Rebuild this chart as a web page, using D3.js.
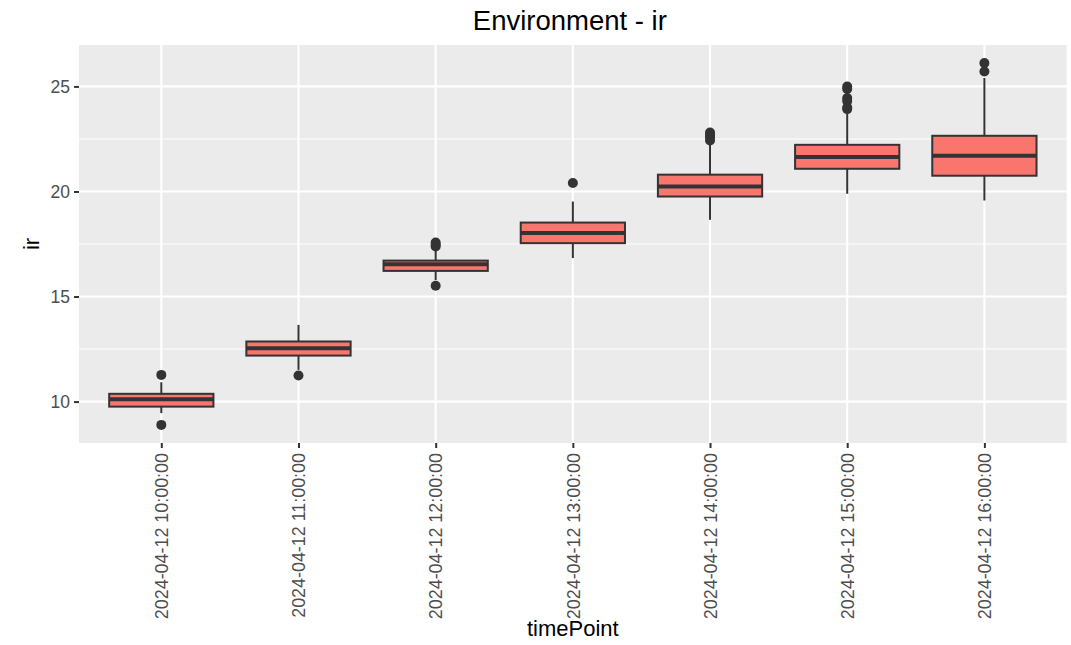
<!DOCTYPE html>
<html>
<head>
<meta charset="utf-8">
<script src="https://cdn.jsdelivr.net/npm/d3@7"></script>
<style>
  body { margin: 0; background: #fff; }
  text { font-family: 'Liberation Sans', Arial, sans-serif; }
</style>
</head>
<body>
<div id="chart"></div>
<script>
'use strict'

// values
const categories = ['2024-04-12 10:00:00', '2024-04-12 11:00:00', '2024-04-12 12:00:00',
  '2024-04-12 13:00:00', '2024-04-12 14:00:00', '2024-04-12 15:00:00', '2024-04-12 16:00:00']
const whiskerLow = [9.45, 11.51, 15.78, 16.83, 18.65, 19.89, 19.57]
const q1 = [9.76, 12.19, 16.22, 17.54, 19.76, 21.08, 20.75]
const median = [10.11, 12.54, 16.54, 18.02, 20.24, 21.64, 21.70]
const q3 = [10.37, 12.86, 16.71, 18.52, 20.80, 22.22, 22.65]
const whiskerHigh = [10.92, 13.65, 17.22, 19.52, 22.22, 23.73, 25.40]
const outliers = [
  [11.27, 8.89],
  [11.24],
  [17.57, 17.47, 17.38, 15.51],
  [20.40],
  [22.81, 22.70, 22.58, 22.43],
  [25.00, 24.88, 24.45, 24.30, 24.00, 23.92],
  [26.11, 25.71]
]
const yTicks = [10, 15, 20, 25]

const W = 1071, H = 645
const margin = { top: 45, right: 4.3, bottom: 202, left: 79 }
const width = W - margin.left - margin.right
const height = H - margin.top - margin.bottom

const boxes = categories.map((c, i) => ({
  name: c, lo: whiskerLow[i], q1: q1[i], med: median[i], q3: q3[i], hi: whiskerHigh[i], out: outliers[i]
}))

const allVals = d3.merge(boxes.map(d => [d.lo, d.hi].concat(d.out)))
const [vmin, vmax] = d3.extent(allVals)
const pad = (vmax - vmin) * 0.05

const x = d3.scalePoint()
  .domain(categories)
  .range([0, width])
  .padding(0.6)

const y = d3.scaleLinear()
  .domain([vmin - pad, vmax + pad])
  .range([height, 0])

const boxW = x.step() * 0.76
const minorTicks = d3.range(yTicks.length - 1).map(i => (yTicks[i] + yTicks[i + 1]) / 2)

const svg = d3.select('#chart').append('svg')
  .attr('width', W)
  .attr('height', H)

svg.append('text')
  .attr('x', margin.left + width / 2 - 3)
  .attr('y', 30)
  .attr('text-anchor', 'middle')
  .style('font-size', '27.5px')
  .style('fill', '#000')
  .text('Environment - ir')

const g = svg.append('g')
  .attr('transform', `translate(${margin.left},${margin.top})`)

// panel
g.append('rect')
  .attr('width', width)
  .attr('height', height)
  .attr('fill', '#EBEBEB')

g.selectAll('.minor')
  .data(minorTicks)
  .join('line')
  .attr('class', 'minor')
  .attr('x1', 0).attr('x2', width)
  .attr('y1', d => y(d)).attr('y2', d => y(d))
  .attr('stroke', '#fff')
  .attr('stroke-width', 1.05)

g.selectAll('.hmajor')
  .data(yTicks)
  .join('line')
  .attr('class', 'hmajor')
  .attr('x1', 0).attr('x2', width)
  .attr('y1', d => y(d)).attr('y2', d => y(d))
  .attr('stroke', '#fff')
  .attr('stroke-width', 2.1)

g.selectAll('.vmajor')
  .data(categories)
  .join('line')
  .attr('class', 'vmajor')
  .attr('x1', d => x(d)).attr('x2', d => x(d))
  .attr('y1', 0).attr('y2', height)
  .attr('stroke', '#fff')
  .attr('stroke-width', 2.1)

// boxes
const box = g.selectAll('.box')
  .data(boxes)
  .join('g')
  .attr('class', 'box')
  .attr('transform', d => `translate(${x(d.name)},0)`)

box.append('line')
  .attr('y1', d => y(d.hi)).attr('y2', d => y(d.q3))
  .attr('stroke', '#333333').attr('stroke-width', 2)

box.append('line')
  .attr('y1', d => y(d.q1)).attr('y2', d => y(d.lo))
  .attr('stroke', '#333333').attr('stroke-width', 2)

box.append('rect')
  .attr('x', -boxW / 2)
  .attr('width', boxW)
  .attr('y', d => y(d.q3))
  .attr('height', d => y(d.q1) - y(d.q3))
  .attr('fill', '#F8766D')
  .attr('stroke', '#333333')
  .attr('stroke-width', 2)

box.append('line')
  .attr('x1', -boxW / 2).attr('x2', boxW / 2)
  .attr('y1', d => y(d.med)).attr('y2', d => y(d.med))
  .attr('stroke', '#333333').attr('stroke-width', 4)

box.selectAll('circle')
  .data(d => d.out)
  .join('circle')
  .attr('cy', d => y(d))
  .attr('r', 5)
  .attr('fill', '#333333')

// axes
const yAxis = g.append('g')
  .call(d3.axisLeft(y).tickValues(yTicks).tickSize(5).tickPadding(4))
yAxis.select('.domain').remove()
yAxis.selectAll('line').attr('stroke', '#333333').attr('stroke-width', 2)
yAxis.selectAll('text').style('font-size', '17.5px').attr('fill', '#4D4D4D')

const xAxis = g.append('g')
  .attr('transform', `translate(0,${height})`)
  .call(d3.axisBottom(x).tickSize(5))
xAxis.select('.domain').remove()
xAxis.selectAll('line').attr('stroke', '#333333').attr('stroke-width', 2)
xAxis.selectAll('text')
  .style('font-size', '17.9px')
  .attr('fill', '#4D4D4D')
  .attr('text-anchor', 'end')
  .attr('transform', 'rotate(-90)')
  .attr('x', -10)
  .attr('y', 0)
  .attr('dy', '0.35em')

svg.append('text')
  .attr('x', margin.left + width / 2)
  .attr('y', 636)
  .attr('text-anchor', 'middle')
  .style('font-size', '22px')
  .text('timePoint')

svg.append('text')
  .attr('transform', `translate(39,${margin.top + height / 2}) rotate(-90)`)
  .attr('text-anchor', 'middle')
  .style('font-size', '22px')
  .text('ir')
</script>
</body>
</html>
